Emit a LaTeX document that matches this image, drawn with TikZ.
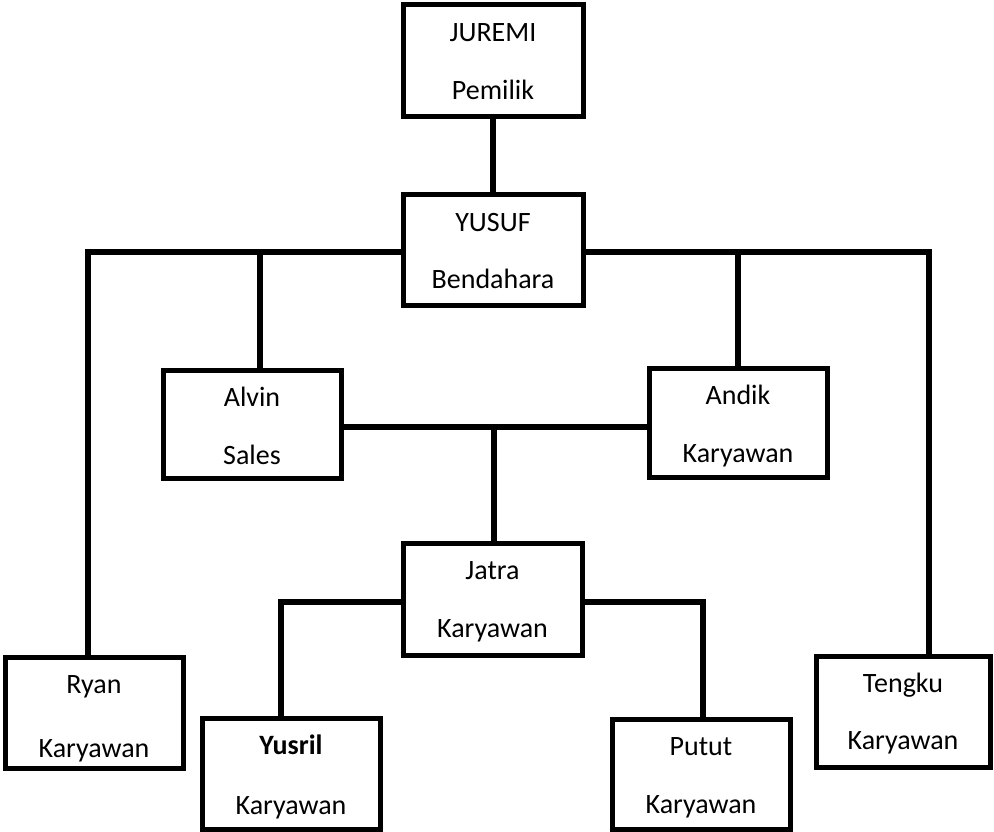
\documentclass[tikz,border=0pt]{standalone}
\usepackage{fontspec}
\setmainfont{Carlito}
\usetikzlibrary{calc}
\tikzset{
  orgbox/.style={draw, line width=5pt, inner sep=0pt, fill=white},
  conn/.style={line width=5.5pt, line cap=rect},
  txt/.style={anchor=base, font=\fontsize{28}{30}\selectfont, inner sep=0pt},
}
% #1 name, #2 left, #3 top, #4 right, #5 bottom, #6 first line, #7 second line, #8 second baseline offset
\newcommand\mkorgbox[8]{%
  \node[orgbox, minimum width={#4-#2}, minimum height={#5-#3}] (#1) at ({(#2+#4)/2},{(#3+#5)/2}) {};
  \node[txt] (#1-n) at ($(#1.north)+(0,39)$) {#6};
  \node[txt] (#1-r) at ($(#1.north)+(0,#8)$) {#7};
}
\begin{document}
\begin{tikzpicture}[x=1pt, y=-1pt]
\useasboundingbox[fill=white] (0,0) rectangle (994,832);
\coordinate (lk) at (88,252);
\coordinate (ak) at (260,252);
\coordinate (dk) at (738,252);
\coordinate (rk) at (929,252);
\coordinate (mk) at (494,427);
\coordinate (jl) at (281,602);
\coordinate (jr) at (703,602);

\mkorgbox{juremi}{403}{5}{583}{117}{JUREMI}{Pemilik}{97}
\mkorgbox{yusuf}{403}{195}{583}{305}{YUSUF}{Bendahara}{96}
\mkorgbox{alvin}{163}{370}{341}{478}{Alvin}{Sales}{97}
\mkorgbox{andik}{649}{368}{827}{477}{Andik}{Karyawan}{97}
\mkorgbox{jatra}{403}{543}{582}{655}{Jatra}{Karyawan}{97}
\mkorgbox{yusril}{202}{718}{380}{829}{\textbf{Yusril}}{Karyawan}{99}
\mkorgbox{putut}{612}{719}{790}{829}{Putut}{Karyawan}{97}
\mkorgbox{tengku}{816}{656}{990}{767}{Tengku}{Karyawan}{96}
\mkorgbox{ryan}{5}{657}{183}{768}{Ryan}{Karyawan}{103}

\draw[conn] (juremi.south) -- (yusuf.north);
\draw[conn] (yusuf.west |- lk) -- (lk) -- (lk |- ryan.north);
\draw[conn] (ak) -- (ak |- alvin.north);
\draw[conn] (yusuf.east |- rk) -- (rk) -- (rk |- tengku.north);
\draw[conn] (dk) -- (dk |- andik.north);
\draw[conn] (alvin.east |- mk) -- (andik.west |- mk);
\draw[conn] (mk) -- (mk |- jatra.north);
\draw[conn] (jatra.west |- jl) -- (jl) -- (jl |- yusril.north);
\draw[conn] (jatra.east |- jr) -- (jr) -- (jr |- putut.north);
\end{tikzpicture}
\end{document}
